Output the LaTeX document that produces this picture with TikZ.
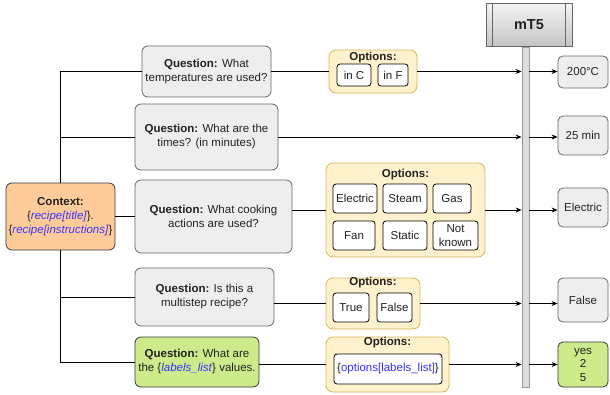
\documentclass[tikz,border=0pt]{standalone}
\usepackage{fontspec}
\setmainfont{Liberation Sans}
\usetikzlibrary{arrows.meta}
\definecolor{qfill}{HTML}{EEEEEE}
\definecolor{qline}{HTML}{666666}
\definecolor{txt}{HTML}{222222}
\definecolor{ctxfill}{HTML}{FFCC99}
\definecolor{darkline}{HTML}{36393D}
\definecolor{greenfill}{HTML}{CDEB8B}
\definecolor{optfill}{HTML}{FFF2CC}
\definecolor{optline}{HTML}{D6B656}
\definecolor{varblue}{HTML}{3333FF}
\definecolor{hdtop}{HTML}{F5F5F5}
\definecolor{hdbot}{HTML}{C4C4C4}
\definecolor{barfill}{HTML}{DDDDDD}
\definecolor{barline}{HTML}{999999}
\newcommand{\fieldref}[1]{\{\textcolor{varblue}{\textit{#1}}\}}
\newcommand{\optref}[1]{\{\textcolor{varblue}{#1}\}}

\begin{document}
\begin{tikzpicture}
  [x = 1pt, y = -1pt, line width = .8pt, text = txt,
   font = \fontsize{11.5}{14}\selectfont,
   wh/.style 2 args = {minimum width = #1, minimum height = #2},
   box/.style = {draw = #1, rounded corners = 6pt, align = center, inner sep = 0pt},
   question/.style = {box = qline, fill = qfill},
   context/.style = {box = darkline, fill = ctxfill},
   answer/.style = {box = qline, fill = qfill, rounded corners = 5pt},
   optbox/.style = {box = optline, fill = optfill, rounded corners = 7pt},
   opttitle/.style = {inner sep = 0pt, font = \fontsize{11.5}{14}\selectfont\bfseries},
   pick/.style = {draw = black, fill = white, rounded corners = 3pt, align = center, inner sep = 0pt},
   tip/.style = {-{Stealth[length = 6pt, width = 5pt]}}]
  \useasboundingbox (0,0) rectangle (610,394);

  \node[context, wh = {109}{67}] (ctx) at (60.5,216.5)
    {\textbf{Context:}\\ \fieldref{recipe[title]}.\\ \fieldref{recipe[instructions]}};

  \node[question, wh = {129}{51}] (q1) at (206.5,71.5) {\textbf{Question:} What\\ temperatures are used?};
  \node[question, wh = {143}{66}] (q2) at (206.5,137) {\textbf{Question:} What are the\\ times? (in minutes)};
  \node[question, wh = {157}{73}] (q3) at (213.5,216.5) {\textbf{Question:} What cooking\\ actions are used?};
  \node[question, wh = {139}{58}] (q4) at (204.5,297) {\textbf{Question:} Is this a\\ multistep recipe?};
  \node[question, fill = greenfill, draw = darkline, wh = {124}{50}] (q5) at (197,362)
    {\textbf{Question:} What are\\ the \fieldref{labels\_list} values.};

  \node[optbox, wh = {88}{43}] (o1) at (373,71.5) {};
  \node[opttitle] (t1) at (373,58) {Options:};
  \node[pick, wh = {34}{22}] (inc) at (354,75) {in C};
  \node[pick, wh = {30}{22}] (inf) at (393,75) {in F};

  \node[optbox, wh = {159}{94}] (o3) at (405.5,210) {};
  \node[opttitle] (t3) at (405.5,175) {Options:};
  \node[pick, wh = {44}{29}] (electric) at (355,198.5) {Electric};
  \node[pick, wh = {44}{29}] (steam) at (405,198.5) {Steam};
  \node[pick, wh = {38}{29}] (gas) at (452,198.5) {Gas};
  \node[pick, wh = {42}{29}] (fan) at (354,235.5) {Fan};
  \node[pick, wh = {44}{29}] (static) at (405,235.5) {Static};
  \node[pick, wh = {45}{29}] (unknown) at (455.5,235.5) {Not\\ known};

  \node[optbox, wh = {94}{51}] (o4) at (373,303.5) {};
  \node[opttitle] (t4) at (373,283) {Options:};
  \node[pick, wh = {36}{29}] (true) at (351,307.5) {True};
  \node[pick, wh = {35}{29}] (false) at (394.5,307.5) {False};

  \node[optbox, wh = {123}{55}] (o5) at (387.5,364.5) {};
  \node[opttitle] (t5) at (387.5,343) {Options:};
  \node[pick, wh = {108}{30}] (labels) at (388,369) {\optref{options[labels\_list]}};

  \node[draw = barline, fill = barfill, wh = {7}{340}, inner sep = 0pt] (bar) at (525.5,217) {};
  \node[draw = qline, top color = hdtop, bottom color = hdbot, wh = {86}{43}, inner sep = 0pt,
    font = \fontsize{14.5}{17}\selectfont\bfseries] (mt5) at (529,24.5) {mT5};
  \draw[qline] ([xshift = 7pt]mt5.north west) -- ([xshift = 7pt]mt5.south west);
  \draw[qline] ([xshift = -7pt]mt5.north east) -- ([xshift = -7pt]mt5.south east);

  \node[answer, wh = {50}{32}] (a1) at (583,72) {200°C};
  \node[answer, wh = {50}{39}] (a2) at (583,135.5) {25 min};
  \node[answer, wh = {50}{39}] (a3) at (583,207.5) {Electric};
  \node[answer, wh = {50}{44}] (a4) at (583,300) {False};
  \node[answer, fill = greenfill, draw = darkline, wh = {50}{45}, font = \fontsize{11.5}{13.5}\selectfont] (a5) at (583,364.5) {yes\\ 2\\ 5};

  \draw (ctx.north) |- (q1.west);
  \draw (ctx.north |- q2.west) -- (q2.west);
  \draw (ctx.east) -- (q3.west);
  \draw (ctx.south) |- (q5.west);
  \draw (ctx.south |- q4.west) -- (q4.west);

  \draw (q1.east) -- (o1.west);
  \draw (q3.east |- o3.west) -- (o3.west);
  \draw (q4.east |- o4.west) -- (o4.west);
  \draw (q5.east |- o5.west) -- (o5.west);

  \foreach \o/\a in {o1/a1, q2/a2, o3/a3, o4/a4, o5/a5}{
    \draw[tip] (\o.east) -- (\o.east -| bar.west);
    \draw[tip] (\o.east -| bar.east) -- (\o.east -| \a.west);
  }
\end{tikzpicture}
\end{document}
